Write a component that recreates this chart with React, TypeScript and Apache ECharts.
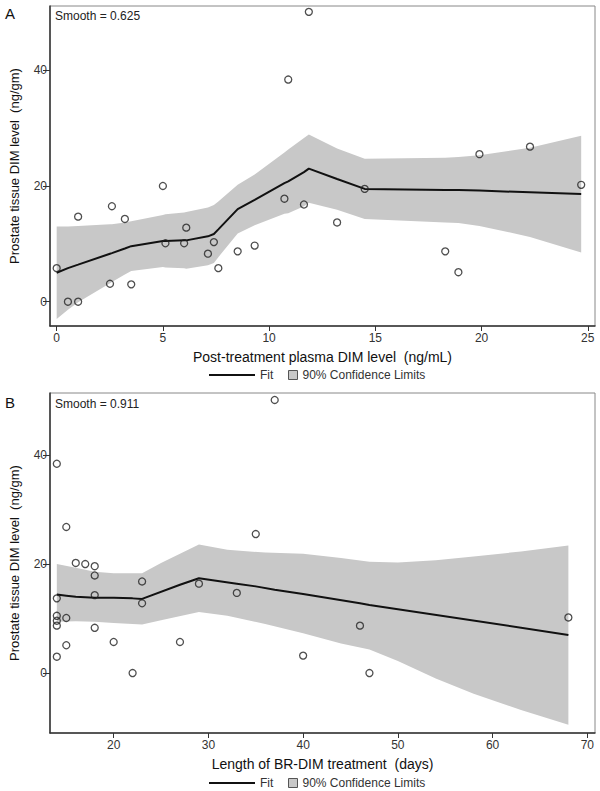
import React, { useEffect, useRef } from "react";
import * as echarts from "echarts";

// Panel A: plasma DIM vs tissue DIM
const plasmaX = [0, 0.53, 1.01, 1.01, 2.51, 2.6, 3.21, 3.51, 5.0, 5.12, 6.0, 6.1, 7.12, 7.4, 7.61, 8.52, 9.32, 10.72, 10.9, 11.64, 11.87, 13.2, 14.5, 18.29, 18.91, 19.9, 22.28, 24.69];
const tissueA = [5.8, 0, 0, 14.7, 3.1, 16.5, 14.3, 3.0, 20.0, 10.1, 10.1, 12.8, 8.3, 10.3, 5.8, 8.7, 9.7, 17.8, 38.4, 16.8, 50.1, 13.7, 19.5, 8.7, 5.1, 25.5, 26.8, 20.2];
const fitAX = [0, 0.53, 1.01, 2.51, 2.6, 3.21, 3.51, 5.0, 5.12, 6.0, 6.1, 7.12, 7.4, 7.61, 8.52, 9.32, 10.72, 10.9, 11.64, 11.87, 13.2, 14.5, 18.29, 18.91, 19.9, 22.28, 24.69];
const fitAY = [5.0, 5.8, 6.4, 8.3, 8.4, 9.2, 9.6, 10.5, 10.5, 10.6, 10.6, 11.3, 11.7, 12.5, 16.0, 17.6, 20.5, 20.8, 22.4, 23.0, 21.2, 19.5, 19.3, 19.3, 19.2, 18.9, 18.6];
const upperA = [13.0, 13.0, 13.1, 13.4, 13.4, 13.7, 13.9, 15.0, 15.1, 15.4, 15.5, 16.3, 16.7, 17.3, 20.2, 22.0, 25.8, 26.3, 28.3, 28.9, 26.5, 24.7, 24.9, 25.0, 25.3, 26.6, 28.7];
const lowerA = [-3.0, -1.4, -0.1, 3.2, 3.4, 4.7, 5.3, 6.0, 5.9, 5.8, 5.7, 6.3, 6.7, 7.7, 11.8, 13.2, 15.2, 15.3, 16.5, 17.1, 15.9, 14.3, 13.7, 13.6, 13.1, 11.2, 8.5];
const ticksAX = [0, 5, 10, 15, 20, 25];
const ticksAY = [0, 20, 40];

// Panel B: days of treatment vs tissue DIM
const daysX = [14, 14, 14, 14, 14, 14, 15, 15, 15, 16, 17, 18, 18, 18, 18, 20, 22, 23, 23, 27, 29, 33, 35, 37, 40, 46, 47, 68];
const tissueB = [38.4, 13.7, 10.5, 9.6, 8.7, 3.0, 26.8, 10.1, 5.1, 20.2, 20.0, 19.6, 17.9, 14.3, 8.3, 5.7, 0, 16.8, 12.8, 5.7, 16.4, 14.7, 25.5, 50.1, 3.2, 8.7, 0, 10.2];
const fitBX = [14, 15, 16, 17, 18, 20, 22, 23, 27, 29, 33, 35, 37, 40, 46, 47, 68];
const fitBY = [14.4, 14.2, 14.0, 13.9, 13.8, 13.8, 13.7, 13.6, 16.2, 17.4, 16.4, 15.9, 15.3, 14.5, 12.8, 12.5, 7.0];
const bandBX = [14, 16, 18, 20, 23, 25, 29, 32, 36, 40, 44, 47, 50, 54, 58, 63, 68];
const upperB = [20.0, 19.3, 18.6, 18.3, 18.3, 20.2, 23.6, 22.6, 22.1, 21.9, 21.1, 20.4, 20.3, 20.7, 21.4, 22.3, 23.4];
const lowerB = [9.4, 9.5, 9.4, 9.2, 8.9, 9.7, 11.2, 10.5, 9.0, 7.3, 5.4, 4.3, 2.2, -1.0, -3.8, -6.8, -9.5];
const ticksBX = [20, 30, 40, 50, 60, 70];
const ticksBY = [0, 20, 40];

const FONT = "'Liberation Sans', Arial, sans-serif";
const BAND = "#c8c8c8";

function bandSeries(name: string, idx: number, bx: number[], lo: number[], up: number[]) {
  return {
    name,
    type: "custom",
    xAxisIndex: idx,
    yAxisIndex: idx,
    z: 1,
    silent: true,
    itemStyle: { color: BAND },
    data: bx.map((x, i) => [x, lo[i], up[i]]),
    encode: { x: 0, y: [1, 2] },
    renderItem: (params: any, api: any) => {
      if (params.dataIndex !== 0) return null;
      const pts: number[][] = [];
      for (let i = 0; i < bx.length; i++) pts.push(api.coord([bx[i], up[i]]));
      for (let i = bx.length - 1; i >= 0; i--) pts.push(api.coord([bx[i], lo[i]]));
      return { type: "polygon", shape: { points: pts }, style: { fill: BAND } };
    },
  };
}

function xAxis(idx: number, min: number, max: number, ticks: number[], name: string) {
  return {
    type: "value",
    gridIndex: idx,
    min,
    max,
    name,
    nameLocation: "middle",
    nameGap: 24,
    nameTextStyle: { fontFamily: FONT, fontSize: 14, color: "#111" },
    axisLine: { show: true, onZero: false, lineStyle: { color: "#333", width: 1.5 } },
    axisTick: { show: true, length: 5, customValues: ticks, lineStyle: { color: "#333" } },
    axisLabel: { customValues: ticks, fontFamily: FONT, fontSize: 12, color: "#333", margin: 6 },
    splitLine: { show: false },
  };
}

function yAxis(idx: number, min: number, max: number, ticks: number[]) {
  return {
    type: "value",
    gridIndex: idx,
    min,
    max,
    name: "Prostate tissue DIM level  (ng/gm)",
    nameLocation: "middle",
    nameGap: 29,
    nameTextStyle: { fontFamily: FONT, fontSize: 13, color: "#111" },
    axisLine: { show: true, onZero: false, lineStyle: { color: "#333", width: 1.5 } },
    axisTick: { show: true, length: 7, customValues: ticks, lineStyle: { color: "#333" } },
    axisLabel: { customValues: ticks, fontFamily: FONT, fontSize: 12, color: "#333", margin: 3 },
    splitLine: { show: false },
  };
}

function scatter(idx: number, xs: number[], ys: number[]) {
  return {
    name: "Observed",
    type: "scatter",
    xAxisIndex: idx,
    yAxisIndex: idx,
    z: 4,
    symbol: "circle",
    symbolSize: 7,
    itemStyle: { color: "rgba(255,255,255,0)", borderColor: "#222", borderWidth: 1.3 },
    data: xs.map((x, i) => [x, ys[i]]),
  };
}

function fit(idx: number, xs: number[], ys: number[]) {
  return {
    name: "Fit",
    type: "line",
    xAxisIndex: idx,
    yAxisIndex: idx,
    z: 3,
    symbol: "none",
    showSymbol: false,
    lineStyle: { color: "#111", width: 2 },
    itemStyle: { color: "#111" },
    data: xs.map((x, i) => [x, ys[i]]),
  };
}

function legends(top: number) {
  return [
    {
      top,
      left: 209,
      orient: "horizontal",
      itemWidth: 46,
      itemHeight: 2,
      itemGap: 6,
      padding: 0,
      selectedMode: false,
      textStyle: { fontFamily: FONT, fontSize: 12, color: "#333" },
      data: [{ name: "Fit", icon: "rect", itemStyle: { color: "#111" } }],
    },
    {
      top,
      left: 288,
      orient: "horizontal",
      itemWidth: 9,
      itemHeight: 9,
      padding: 0,
      selectedMode: false,
      textStyle: { fontFamily: FONT, fontSize: 12, color: "#333" },
      data: [
        {
          name: "90% Confidence Limits",
          icon: "rect",
          itemStyle: { color: BAND, borderColor: "#555", borderWidth: 1 },
        },
      ],
    },
  ];
}

export default function App() {
  const ref = useRef<HTMLDivElement>(null);
  useEffect(() => {
    document.body.style.margin = "0";
    if (!ref.current) return;
    const chart = echarts.init(ref.current, undefined, { renderer: "svg" });
    chart.setOption({
      animation: false,
      backgroundColor: "#fff",
      grid: [
        { left: 47, top: 6, width: 548, height: 320, show: true, borderColor: "#888", borderWidth: 1, containLabel: false },
        { left: 47, top: 393, width: 548, height: 340, show: true, borderColor: "#888", borderWidth: 1, containLabel: false },
      ],
      xAxis: [
        xAxis(0, -0.314, 25.34, ticksAX, "Post-treatment plasma DIM level  (ng/mL)"),
        xAxis(1, 13.28, 70.81, ticksBX, "Length of BR-DIM treatment  (days)"),
      ],
      yAxis: [yAxis(0, -4.2, 51.11, ticksAY), yAxis(1, -11.0, 51.38, ticksBY)],
      legend: [...legends(369), ...legends(777)],
      graphic: [
        { type: "text", left: 5, top: 6, style: { text: "A", font: `15px ${FONT}`, fill: "#111" } },
        { type: "text", left: 5, top: 395, style: { text: "B", font: `15px ${FONT}`, fill: "#111" } },
        { type: "text", left: 55, top: 10, style: { text: "Smooth = 0.625", font: `12px ${FONT}`, fill: "#222" } },
        { type: "text", left: 55, top: 398, style: { text: "Smooth = 0.911", font: `12px ${FONT}`, fill: "#222" } },
      ],
      series: [
        bandSeries("90% Confidence Limits", 0, fitAX, lowerA, upperA),
        fit(0, fitAX, fitAY),
        scatter(0, plasmaX, tissueA),
        bandSeries("90% Confidence Limits", 1, bandBX, lowerB, upperB),
        fit(1, fitBX, fitBY),
        scatter(1, daysX, tissueB),
      ],
    });
    return () => chart.dispose();
  }, []);
  return <div ref={ref} style={{ width: 600, height: 791 }} />;
}
